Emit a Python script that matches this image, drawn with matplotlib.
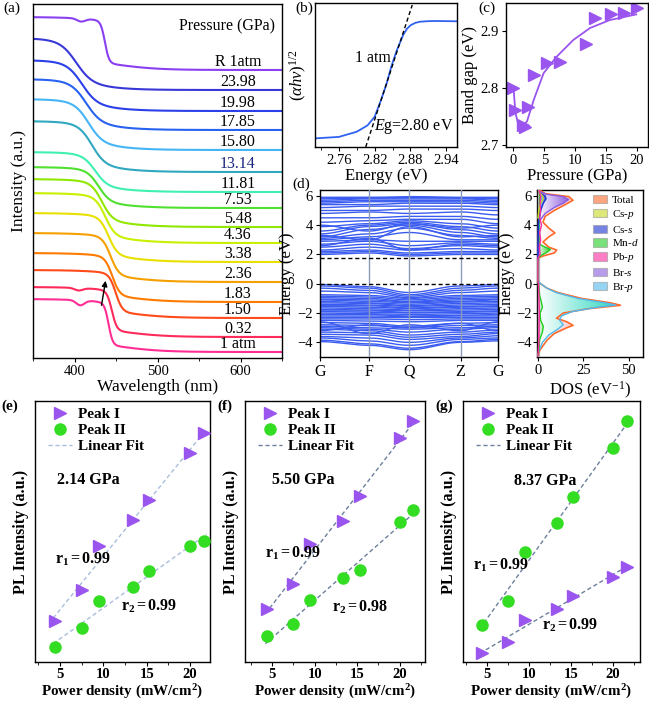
import numpy as np
import matplotlib
matplotlib.use('Agg')
import matplotlib.pyplot as plt
from matplotlib.lines import Line2D
from matplotlib.patches import Patch
from matplotlib.colors import LinearSegmentedColormap
from matplotlib.ticker import MultipleLocator

plt.rcParams.update({
    'font.family': 'Liberation Serif',
    'mathtext.fontset': 'custom',
    'mathtext.rm': 'Liberation Serif',
    'mathtext.it': 'Liberation Serif:italic',
    'mathtext.bf': 'Liberation Serif:bold',
    'xtick.direction': 'out', 'ytick.direction': 'out',
    'xtick.major.size': 3, 'ytick.major.size': 3,
    'xtick.minor.size': 2, 'ytick.minor.size': 2,
    'xtick.major.pad': 2, 'ytick.major.pad': 2,
    'font.size': 11, 'axes.linewidth': 1.0,
    'xtick.labelsize': 10.5, 'ytick.labelsize': 10.5,
})

# ---------------- data ----------------
# (a) absorption spectra, bottom to top
a_labels = ['1 atm', '0.32', '1.50', '1.83', '2.36', '3.38', '4.36', '5.48', '7.53',
            '11.81', '13.14', '15.80', '17.85', '19.98', '23.98', 'R 1atm']
a_base = [6, 21, 40, 56, 76, 96, 115, 131, 150, 166, 186, 208, 228, 247, 268, 288]
a_step = [53, 50, 48, 49, 49, 49, 50, 48, 41, 40, 51, 51, 51, 51, 52, 53]
a_edge = [441, 445, 449.6, 445.5, 443.5, 441, 437, 433, 429, 425, 421, 417, 414, 409, 402, 436.6]
a_width = [2.5, 3, 4, 4.5, 5, 5.5, 6, 6.5, 7, 7.5, 8, 8.5, 9, 9, 9.5, 2.5]
a_dip_nm = [407, 405, 0, 0, 0, 0, 0, 0, 0, 0, 0, 0, 0, 0, 0, 408]
a_dip_depth = [5, 2.5, 0, 0, 0, 0, 0, 0, 0, 0, 0, 0, 0, 0, 0, 3]
a_colors = ['#ff2d95', '#ff2a5a', '#ff4a1a', '#ff7a00', '#f5a000', '#e8e000', '#c8f000',
            '#90e800', '#50e030', '#40f0b0', '#30a8c0', '#45b5f5', '#2862f0', '#2b40e8',
            '#3838d8', '#8a40f0']

# (b) Tauc plot at 1 atm
b_energy = [2.72, 2.76, 2.79, 2.808, 2.82, 2.831, 2.84, 2.848, 2.857, 2.868, 2.874, 2.88,
            2.888, 2.896, 2.91, 2.924, 2.96]
b_value = [0.06, 0.07, 0.106, 0.15, 0.21, 0.33, 0.44, 0.56, 0.67, 0.78, 0.82, 0.845,
           0.862, 0.87, 0.874, 0.875, 0.873]

# (c) band gap vs pressure
c_pressure = [0.0, 0.32, 1.50, 1.83, 2.36, 3.38, 5.48, 7.53, 11.81, 13.14, 15.80, 17.85, 19.98]
c_gap = [2.800, 2.761, 2.735, 2.732, 2.766, 2.823, 2.843, 2.845, 2.877, 2.923, 2.929, 2.932, 2.940]
c_fit_p = [0.05, 0.32, 0.7, 1.13, 1.6, 2.2, 3.3, 4.9, 7.03, 9.7, 12.4, 15.6, 19.9]
c_fit_e = [2.796, 2.756, 2.740, 2.735, 2.735, 2.741, 2.779, 2.826, 2.855, 2.884, 2.905, 2.919, 2.929]

# (d) band structure: energies at G, F, Q, Z, G
k_labels = ['G', 'F', 'Q', 'Z', 'G']
k_nodes = [0.0, 0.275, 0.5, 0.79, 1.0]
cond_bands = [
    [2.0, 2.1, 1.9, 2.0, 2.0], [2.1, 2.2, 2.0, 2.1, 2.1], [2.2, 2.3, 2.1, 2.2, 2.2],
    [2.3, 2.5, 2.3, 2.4, 2.3], [2.5, 2.7, 2.4, 2.6, 2.5], [2.7, 2.9, 2.6, 2.8, 2.7],
    [2.9, 3.0, 2.9, 2.9, 2.9], [3.0, 3.2, 3.5, 3.0, 3.0], [3.1, 3.4, 3.8, 3.3, 3.1],
    [3.2, 3.7, 4.0, 3.5, 3.2], [3.4, 3.9, 4.1, 3.7, 3.4], [3.6, 4.0, 4.2, 3.9, 3.6],
    [3.9, 4.1, 4.3, 4.1, 3.8], [4.2, 4.3, 4.4, 4.4, 4.1], [4.5, 4.5, 4.6, 4.6, 4.4],
    [4.8, 4.9, 4.8, 4.9, 4.7], [5.0, 5.0, 5.1, 5.1, 5.0], [5.2, 5.3, 5.3, 5.3, 5.2],
    [5.4, 5.4, 5.5, 5.5, 5.4], [5.5, 5.6, 5.6, 5.6, 5.5], [5.6, 5.7, 5.7, 5.7, 5.6],
    [5.7, 5.8, 5.8, 5.8, 5.7], [5.8, 5.85, 5.9, 5.85, 5.8], [5.9, 5.9, 5.95, 5.9, 5.9],
    [2.6, 3.1, 2.3, 2.7, 2.6], [3.3, 3.0, 3.9, 3.2, 3.3], [4.0, 3.6, 4.1, 3.8, 4.0],
]
val_bands = [
    [-0.05, -0.2, -0.6, -0.15, -0.05], [-0.15, -0.3, -0.75, -0.3, -0.15],
    [-0.3, -0.45, -0.85, -0.45, -0.3], [-0.5, -0.6, -0.95, -0.6, -0.5],
    [-0.75, -0.8, -1.0, -0.8, -0.75], [-0.85, -0.9, -1.1, -0.9, -0.85],
    [-0.95, -1.0, -1.2, -1.0, -0.95], [-1.05, -1.1, -1.25, -1.1, -1.05],
    [-1.1, -1.2, -1.3, -1.2, -1.1], [-1.2, -1.3, -1.4, -1.25, -1.2],
    [-1.3, -1.35, -1.5, -1.35, -1.3], [-1.4, -1.45, -1.55, -1.45, -1.4],
    [-1.5, -1.5, -1.65, -1.55, -1.5], [-1.55, -1.6, -1.7, -1.6, -1.55],
    [-1.65, -1.7, -1.8, -1.7, -1.65], [-1.75, -1.8, -1.85, -1.8, -1.75],
    [-1.85, -1.85, -1.95, -1.9, -1.85], [-1.9, -1.95, -2.0, -1.95, -1.9],
    [-2.0, -2.05, -2.1, -2.05, -2.0], [-2.1, -2.1, -2.2, -2.15, -2.1],
    [-2.2, -2.2, -2.25, -2.2, -2.2], [-2.3, -2.3, -2.3, -2.3, -2.3],
    [-2.4, -2.4, -2.45, -2.4, -2.4], [-2.5, -2.55, -2.6, -2.5, -2.5],
    [-2.65, -2.7, -2.9, -2.7, -2.65], [-2.8, -2.85, -3.0, -2.85, -2.8],
    [-2.9, -3.0, -3.1, -3.0, -2.9], [-3.0, -3.1, -3.3, -3.1, -3.0],
    [-3.1, -3.2, -3.5, -3.3, -3.15], [-3.3, -3.35, -3.65, -3.45, -3.3],
    [-3.45, -3.5, -3.8, -3.6, -3.4], [-3.6, -3.7, -4.0, -3.7, -3.55],
    [-3.7, -3.9, -4.2, -3.8, -3.7], [-3.85, -4.1, -4.4, -3.95, -3.8],
    [-3.95, -4.2, -4.5, -4.0, -3.9], [-2.6, -3.4, -2.8, -3.2, -2.6],
    [-3.2, -2.8, -3.0, -2.7, -3.2],
]
fermi_levels = [0.0, 1.75]

# (d) DOS knots (energy, states/eV)
dos_total_e = [-5.0, -4.8, -4.55, -4.2, -3.86, -3.4, -3.0, -2.84, -2.6, -2.35, -2.0, -1.7, -1.47,
               -1.3, -1.0, -0.6, -0.3, 0.0, 0.15, 1.75, 1.9, 2.1, 2.3, 2.5, 2.85, 3.2, 3.47, 3.8,
               4.2, 4.6, 5.0, 5.4, 5.7, 5.95, 6.15, 6.4]
dos_total_v = [0, 0.3, 1, 3, 5, 9, 16, 19.4, 16, 10.3, 14, 28, 45.6, 40, 24, 11, 5, 1.5, 0, 0, 3,
               9, 10.4, 6, 2.8, 6, 9.4, 6, 2.8, 4, 9, 15, 19.4, 17, 4, 1]
dos_brp_e = [-5, -4.7, -4.4, -4.0, -3.5, -3.1, -2.8, -2.5, -2.2, -1.9, -1.6, -1.45, -1.3, -1.0,
             -0.6, -0.3, 0.0, 0.2, 1.7, 2.0, 2.4, 3.0, 4.0, 5.0, 5.8, 6.4]
dos_brp_v = [0, 0.3, 1.2, 2.5, 6, 11, 14, 12, 13, 19, 33, 43, 37, 22, 10, 5, 1.5, 0, 0, 0.8, 1,
             1, 0.8, 1.5, 2, 0.5]
dos_brs_e = [1.7, 4.0, 4.3, 4.8, 5.2, 5.5, 5.75, 5.95, 6.1, 6.3, 6.4]
dos_brs_v = [0, 0.3, 1, 4, 9, 14, 17, 14, 5, 1, 0.5]
dos_css_e = [1.7, 4.2, 5.0, 5.5, 5.8, 6.0, 6.2, 6.4]
dos_css_v = [0, 0.3, 1.5, 3, 4.5, 4, 1, 0.5]
dos_mnd_e = [-5, -4.5, -3.8, -3.3, -2.9, -2.5, -2.0, -1.6, -1.3, -0.8, 0, 0.2, 1.75, 1.95, 2.15,
             2.35, 2.5, 2.7, 3.5, 5.0, 6.0, 6.4]
dos_mnd_v = [0, 0.5, 1, 2.5, 3, 1.5, 1.2, 2.5, 2, 1, 0.3, 0, 0, 2, 5, 7, 4, 0.8, 0.5, 0.8, 1, 0.5]
dos_pbp_e = [-5, -4, -3, -2, -1, 0, 0.2, 1.75, 2.0, 2.5, 3.0, 3.5, 4.0, 4.5, 5.0, 5.5, 6.0, 6.4]
dos_pbp_v = [0, 0.5, 0.6, 0.8, 0.6, 0.3, 0, 0, 1.2, 0.8, 1.5, 1.0, 2.0, 1.0, 1.5, 1.2, 1.5, 0.5]
dos_csp_e = [4.5, 5.0, 5.5, 5.8, 6.0, 6.2, 6.4]
dos_csp_v = [0, 0.5, 1.5, 3, 2.5, 1, 0.3]
dos_legend = ['Total', 'Cs-$p$', 'Cs-$s$', 'Mn-$d$', 'Pb-$p$', 'Br-$s$', 'Br-$p$']
dos_colors = ['#ff6a2a', '#c8d820', '#1a33d0', '#22cc22', '#ff2aa0', '#8a5ae0', '#50b8ee']

# (e)-(g) PL intensity vs power density
power = [4.4, 7.5, 9.5, 13.4, 15.3, 20.0, 21.6]
e_peak1 = [12.3, 21.7, 35.0, 42.8, 48.8, 62.8, 69.0]
e_peak2 = [4.5, 10.2, 18.4, 22.5, 27.5, 34.9, 36.4]
f_peak1 = [15.8, 23.4, 35.6, 42.5, 49.8, 67.5, 72.4]
f_peak2 = [7.7, 11.4, 18.6, 25.2, 27.7, 42.0, 45.8]
g_peak1 = [2.7, 6.0, 12.7, 15.8, 20.0, 25.7, 28.7]
g_peak2 = [11.0, 18.3, 33.0, 41.7, 49.5, 64.3, 72.5]
pressures_efg = ['2.14 GPa', '5.50 GPa', '8.37 GPa']
r_values = [('0.99', '0.99'), ('0.99', '0.98'), ('0.99', '0.99')]

# ---------------- figure ----------------
W, H = 649, 701
fig = plt.figure(figsize=(W / 100, H / 100), dpi=100)


def add_ax(l, t, r, b):
    return fig.add_axes([l / W, 1 - b / H, (r - l) / W, (b - t) / H])


ax_a = add_ax(33, 4, 282, 358)
ax_b = add_ax(315, 3, 457, 147)
ax_c = add_ax(506, 3, 648, 147)
ax_d = add_ax(320, 190, 498, 357)
ax_dos = add_ax(537, 190, 643, 357)
ax_e = add_ax(35, 401, 210, 662)
ax_f = add_ax(245, 401, 425, 662)
ax_g = add_ax(463, 401, 640, 662)

# ---- (a)
wl = np.linspace(350, 650, 700)
for i, lab in enumerate(a_labels):
    s1 = 1 / (1 + np.exp((wl - a_edge[i]) / a_width[i]))
    s2 = 1 / (1 + np.exp((wl - a_edge[i] - 15) / 25))
    y = a_base[i] + a_step[i] * (0.8 * s1 + 0.2 * s2)
    if a_dip_depth[i]:
        y -= a_dip_depth[i] * np.exp(-((wl - a_dip_nm[i]) / 7) ** 2)
    ax_a.plot(wl, y, color=a_colors[i], lw=1.5)
    ax_a.text(597, a_base[i] + 8, lab, ha='center', va='center', fontsize=11.5,
              color='#1a237e' if lab == '13.14' else 'black')
ax_a.text(584, 332, 'Pressure (GPa)', ha='center', va='center', fontsize=11.5)
ax_a.annotate('', xy=(438, 80), xytext=(432, 50),
              arrowprops=dict(arrowstyle='-|>', color='black', lw=1.0, mutation_scale=8))
ax_a.set_xlim(350, 650)
ax_a.set_ylim(0, 354)
ax_a.set_yticks([])
ax_a.set_xticks([400, 500, 600])
ax_a.xaxis.set_minor_locator(MultipleLocator(50))
ax_a.set_xlabel('Wavelength (nm)', fontsize=12.5, labelpad=1)
ax_a.set_ylabel('Intensity (a.u.)', fontsize=12.5, labelpad=4)

# ---- (b)
ax_b.plot(b_energy, b_value, color='#2f62f0', lw=1.3)
ax_b.plot([2.805, 2.883], [0.0, 0.986], ls='--', color='black', lw=1.0, dashes=(3, 2))
ax_b.text(2.817, 0.62, '1 atm', ha='center', va='center', fontsize=11.5)
ax_b.text(2.952, 0.14, r'$E$g=2.80 eV', ha='right', va='center', fontsize=11.5)
ax_b.set_xlim(2.72, 2.958)
ax_b.set_ylim(0, 1)
ax_b.set_yticks([])
ax_b.set_xticks([2.76, 2.82, 2.88, 2.94])
ax_b.xaxis.set_minor_locator(MultipleLocator(0.03))
ax_b.set_xlabel('Energy (eV)', fontsize=12, labelpad=1)
ax_b.set_ylabel(r'$(\alpha h\nu)^{1/2}$', fontsize=12, labelpad=4)

# ---- (c)
ax_c.plot(c_fit_p, c_fit_e, color='#9a55ee', lw=1.3)
ax_c.plot(c_pressure, c_gap, ls='none', marker='>', ms=8.5, color='#9a55ee')
ax_c.set_xlim(-1.2, 21.8)
ax_c.set_ylim(2.696, 2.949)
ax_c.set_xticks([0, 5, 10, 15, 20])
ax_c.set_yticks([2.7, 2.8, 2.9])
ax_c.set_xlabel('Pressure (GPa)', fontsize=12, labelpad=1)
ax_c.set_ylabel('Band gap (eV)', fontsize=12, labelpad=2)

# ---- (d) band structure
kk = np.linspace(0, 1, 400)


def smooth_band(vals):
    out = np.empty_like(kk)
    for j in range(len(k_nodes) - 1):
        m = (kk >= k_nodes[j]) & (kk <= k_nodes[j + 1])
        t = (kk[m] - k_nodes[j]) / (k_nodes[j + 1] - k_nodes[j])
        out[m] = vals[j] + (vals[j + 1] - vals[j]) * (1 - np.cos(np.pi * t)) / 2
    return out


for band in cond_bands + val_bands:
    ax_d.plot(kk, smooth_band(band), color='#3a5cf0', lw=1.0)
for kx in k_nodes[1:-1]:
    ax_d.axvline(kx, color='#8a9ab8', lw=1.0, zorder=3)
for ef in fermi_levels:
    ax_d.axhline(ef, color='black', ls='--', lw=1.0, dashes=(3, 2), zorder=4)
ax_d.set_xlim(0, 1)
ax_d.set_ylim(-5.0, 6.4)
ax_d.set_xticks(k_nodes)
ax_d.set_xticklabels(k_labels, fontsize=11.5)
ax_d.set_yticks([-4, -2, 0, 2, 4, 6])
ax_d.set_ylabel('Energy (eV)', fontsize=12)
ax_d.yaxis.set_label_coords(-0.14, 0.5)

# ---- (d) DOS
DOS_XMAX = 58


def grad_fill(ax, e, v, color, z):
    poly = ax.fill_betweenx(e, 0, v, facecolor='none', edgecolor='none')
    cmap = LinearSegmentedColormap.from_list('g', ['white', color])
    grad = np.linspace(0, 1, 256).reshape(1, -1)
    im = ax.imshow(grad, extent=[0, max(v), min(e), max(e)], aspect='auto', cmap=cmap,
                   origin='lower', zorder=z, interpolation='bilinear')
    im.set_clip_path(poly.get_paths()[0], transform=ax.transData)


grad_fill(ax_dos, dos_total_e, dos_total_v, '#f08a9a', 1)
grad_fill(ax_dos, dos_brp_e, dos_brp_v, '#30d8c0', 2)
grad_fill(ax_dos, dos_brs_e, dos_brs_v, '#9060e0', 2)
grad_fill(ax_dos, dos_mnd_e, dos_mnd_v, '#22cc22', 3)
grad_fill(ax_dos, dos_css_e, dos_css_v, '#1a33d0', 3)
ax_dos.axvline(0.4, color='#b5b5b5', lw=1.6, zorder=4)
ax_dos.plot(dos_total_v, dos_total_e, color=dos_colors[0], lw=1.2, zorder=5)
ax_dos.plot(dos_brp_v, dos_brp_e, color=dos_colors[6], lw=1.0, zorder=5)
ax_dos.plot(dos_brs_v, dos_brs_e, color=dos_colors[5], lw=1.0, zorder=5)
ax_dos.plot(dos_mnd_v, dos_mnd_e, color=dos_colors[3], lw=1.0, zorder=6)
ax_dos.plot(dos_css_v, dos_css_e, color=dos_colors[2], lw=1.0, zorder=6)
ax_dos.plot(dos_csp_v, dos_csp_e, color=dos_colors[1], lw=1.0, zorder=6)
ax_dos.plot(dos_pbp_v, dos_pbp_e, color=dos_colors[4], lw=1.0, zorder=7)
ax_dos.set_xlim(-0.5, DOS_XMAX)
ax_dos.set_ylim(-5.0, 6.4)
ax_dos.set_xticks([0, 25, 50])
ax_dos.set_yticks([-4, -2, 0, 2, 4, 6])
ax_dos.tick_params(axis='y', pad=1)
ax_dos.set_xlabel('DOS (eV$^{-1}$)', fontsize=12, labelpad=2)
ax_dos.set_ylabel('Energy (eV)', fontsize=12)
ax_dos.yaxis.set_label_coords(-0.21, 0.5)
handles = [Patch(facecolor=c, edgecolor='#999999', alpha=0.6, lw=0.8) for c in dos_colors]
ax_dos.legend(handles, dos_legend, loc='upper right', bbox_to_anchor=(1.02, 1.01),
              frameon=False, fontsize=8, handlelength=1.3, handleheight=0.8,
              labelspacing=0.25, handletextpad=0.4, borderaxespad=0.2)

# ---- (e)-(g)
violet = '#9a55ee'
green = '#33dd22'
efg = [(ax_e, e_peak1, e_peak2, (2.1, 22.3), '#a9bedb', [(4.6, 54.7), (4.4, 31), (12.0, 16.7)]),
       (ax_f, f_peak1, f_peak2, (1.8, 23.0), '#6c7f9c', [(5.0, 54.7), (4.2, 32.8), (12.0, 16.5)]),
       (ax_g, g_peak1, g_peak2, (2.2, 23.2), '#6c7f9c', [(8.2, 54.5), (3.4, 29.0), (11.6, 11.0)])]
for idx, (ax, p1, p2, xl, fitc, tpos) in enumerate(efg):
    xs = np.array([4.2, 21.9])
    for p in (p1, p2):
        c1, c0 = np.polyfit(power, p, 1)
        ax.plot(xs, c1 * xs + c0, ls='--', color=fitc, lw=1.0, dashes=(3, 2), zorder=1)
    ax.plot(power, p1, ls='none', marker='>', ms=9, color=violet, zorder=3)
    ax.plot(power, p2, ls='none', marker='o', ms=8, color=green, zorder=3)
    hs = [Line2D([], [], ls='none', marker='>', ms=9, color=violet),
          Line2D([], [], ls='none', marker='o', ms=8, color=green),
          Line2D([], [], ls='--', dashes=(3, 2), color=fitc, lw=1.0)]
    ax.legend(hs, ['Peak I', 'Peak II', 'Linear Fit'], loc='upper left',
              bbox_to_anchor=(0.02, 1.01), frameon=False,
              prop={'weight': 'bold', 'size': 11}, handlelength=1.6,
              handletextpad=0.4, labelspacing=0.15, borderaxespad=0.2)
    ax.text(tpos[0][0], tpos[0][1], pressures_efg[idx], fontsize=11.5, fontweight='bold',
            va='center', ha='left')
    ax.text(tpos[1][0], tpos[1][1], r'$\mathbf{r_1=%s}$' % r_values[idx][0], fontsize=11.5,
            va='center', ha='left')
    ax.text(tpos[2][0], tpos[2][1], r'$\mathbf{r_2=%s}$' % r_values[idx][1], fontsize=11.5,
            va='center', ha='left')
    ax.set_xlim(*xl)
    ax.set_ylim(0, 78.5)
    ax.set_yticks([])
    ax.set_xticks([5, 10, 15, 20])
    ax.xaxis.set_minor_locator(MultipleLocator(2.5))
    ax.tick_params(axis='x', labelsize=10.5, pad=1.5)
    for t in ax.get_xticklabels():
        t.set_fontweight('bold')
    ax.set_xlabel(r'Power density (mW/cm$^{\mathbf{2}}$)', fontsize=10.8, fontweight='bold',
                  labelpad=1)
    ax.set_ylabel('PL Intensity (a.u.)', fontsize=11.5, fontweight='bold', labelpad=4)

# panel letters
for txt, x, y, bold in [('(a)', 3, 8, False), ('(b)', 295, 8, False), ('(c)', 478, 8, False),
                        ('(d)', 292, 184, False), ('(e)', 1, 406, True), ('(f)', 217, 406, True),
                        ('(g)', 435, 406, True)]:
    fig.text(x / W, 1 - y / H, txt, fontsize=11, va='center', ha='left',
             fontweight='bold' if bold else 'normal')

fig.savefig('out.png', dpi=100)
